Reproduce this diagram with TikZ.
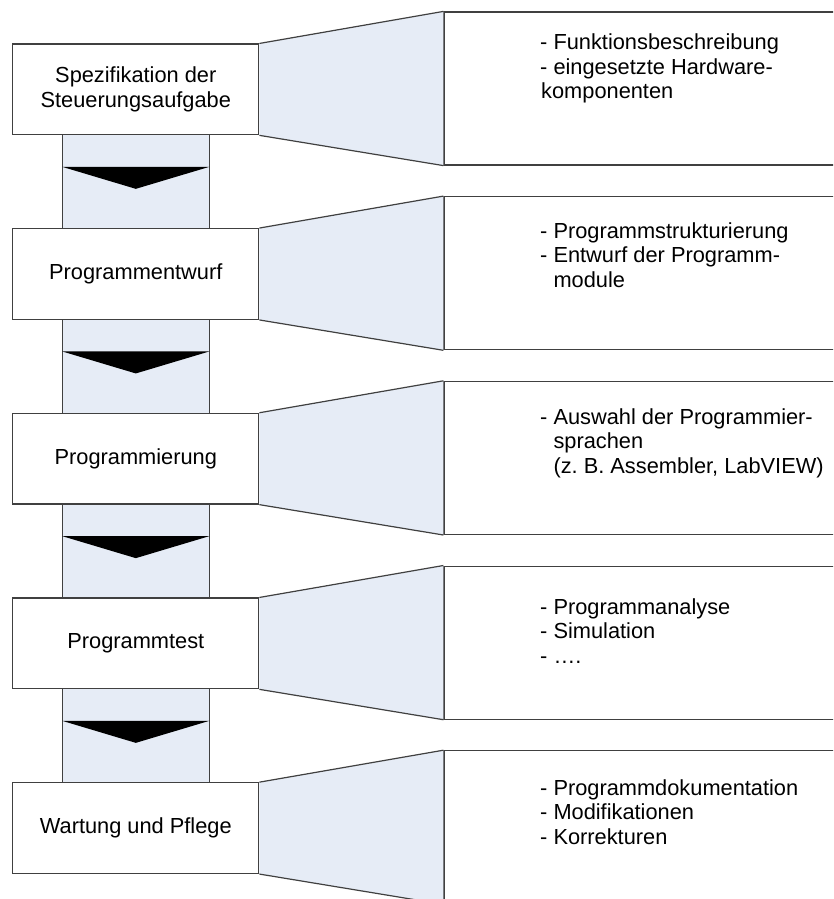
\documentclass[tikz,border=0pt]{standalone}
\usepackage{fontspec}
\setmainfont{Liberation Sans}
\usetikzlibrary{calc}

\definecolor{panelblue}{HTML}{E6ECF6}
\definecolor{edgegray}{HTML}{404040}

\tikzset{
  edge/.style={draw=edgegray, line width=1.2pt},
  stage/.style={edge, fill=white, minimum width=246pt, minimum height=90.7pt,
    inner sep=0pt, align=center, font=\fontsize{21.8}{24.4}\selectfont},
  panel/.style={edge, fill=white, minimum width=420pt, minimum height=153pt, inner sep=0pt},
  notes/.style={anchor=base west, inner sep=0pt, align=left,
    font=\fontsize{21.8}{24.5}\selectfont\frenchspacing},
}

\begin{document}
\begin{tikzpicture}[x=1pt, y=-1pt]
    \useasboundingbox (0,0) rectangle (833,899);
    \clip (0,0) rectangle (833,899);

    % --- LEFT: PROCESS STAGES ---
    \node[stage] (s1) at (135.8, 89.4) {Spezifikation der\\Steuerungsaufgabe};
    \node[stage] (s2) at (135.8, 274.0) {Programmentwurf};
    \node[stage] (s3) at (135.8, 458.7) {Programmierung};
    \node[stage] (s4) at (135.8, 643.4) {Programmtest};
    \node[stage] (s5) at (135.8, 828.1) {Wartung und Pflege};

    % --- RIGHT: DETAIL PANELS (right edge runs off the page) ---
    \node[panel] (p1) at (654, 88.5) {};
    \node[panel] (p2) at (654, 273.2) {};
    \node[panel] (p3) at (654, 457.9) {};
    \node[panel] (p4) at (654, 642.6) {};
    \node[panel] (p5) at (654, 827.3) {};

    % Funnels from each stage to its panel
    \foreach \s/\p in {s1/p1, s2/p2, s3/p3, s4/p4, s5/p5} {
        \fill[panelblue] (\s.north east) -- (\p.north west) -- (\p.south west) -- (\s.south east) -- cycle;
        \draw[edge] (\s.north east) -- (\p.north west) (\s.south east) -- (\p.south west);
    }

    % Connecting columns with the black arrow heads
    \foreach \a/\b in {s1/s2, s2/s3, s3/s4, s4/s5} {
        \fill[panelblue] ($(\a.south)+(-73.5,0)$) rectangle ($(\b.north)+(73.5,0)$);
        \draw[edge] ($(\a.south)+(-73.5,0)$) -- ($(\b.north)+(-73.5,0)$);
        \draw[edge] ($(\a.south)+(73.5,0)$) -- ($(\b.north)+(73.5,0)$);
        \fill[black] ($(\a.south)+(-73.5,31.5)$) -- ($(\a.south)+(73.5,31.5)$) -- ($(\a.south)+(0,53.5)$) -- cycle;
    }

    % --- PANEL TEXTS (base = baseline of the last line) ---
    \node[notes] (n1) at (540, 98.5) {- Funktionsbeschreibung\\- eingesetzte Hardware-\\\hspace*{1pt}komponenten};
    \node[notes] (n2) at (540, 287.3) {- Programmstrukturierung\\- Entwurf der Programm-\\\phantom{- }module};
    \node[notes] (n3) at (540, 473.3) {- Auswahl der Programmier-\\\phantom{- }sprachen\\\phantom{- }(z. B. Assembler, LabVIEW)};
    \node[notes] (n4) at (540, 663.0) {- Programmanalyse\\- Simulation\\- ….};
    \node[notes] (n5) at (540, 844.0) {- Programmdokumentation\\- Modifikationen\\- Korrekturen};

\end{tikzpicture}
\end{document}
